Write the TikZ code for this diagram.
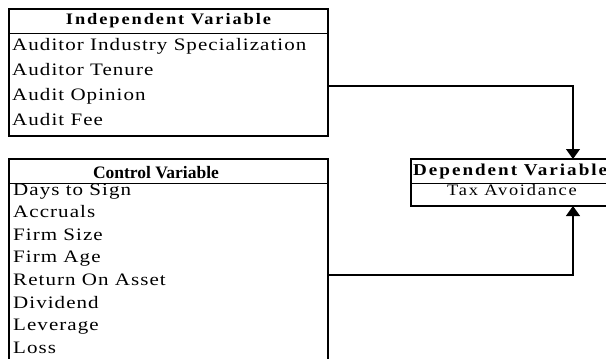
\documentclass[tikz,border=0pt]{standalone}
\usepackage{fontspec}
\setmainfont{Liberation Serif}
\newfontfamily\rowfont{Liberation Serif}[LetterSpace=6,FakeStretch=1.2]
\newfontfamily\depfont{Liberation Serif}[LetterSpace=11,FakeStretch=1.15]
\newfontfamily\headfont{Liberation Serif}[LetterSpace=12,FakeStretch=1.15]
\usetikzlibrary{arrows.meta}

\begin{document}
\begin{tikzpicture}[x=1pt,y=-1pt,
	box/.style={draw,line width=1.3pt,outer sep=0pt,inner sep=0pt},
	rule/.style={line width=1pt},
	link/.style={line width=1.1pt},
	arr/.style={link,-{Triangle[width=14pt,length=10pt]}},
	row/.style={anchor=base west,inner sep=0pt,font=\rowfont\fontsize{17.5}{19}\selectfont},
	head/.style={anchor=base,inner sep=0pt,font=\headfont\bfseries\fontsize{16}{18}\selectfont}]

	\useasboundingbox (0,0) rectangle (606,359);
	\clip (0,0) rectangle (606,359);

	%------------------------------------------------------
	\node[box,minimum width=319pt,minimum height=127pt,anchor=north west] (ind) at (9,9) {};
	\draw[rule] ([yshift=-24pt]ind.north west) -- ([yshift=-24pt]ind.north east);
	\node[head] (ind-head) at (168.5,24.5) {Independent Variable};
	\node[row] (ind-1) at (12,50) {Auditor Industry Specialization};
	\node[row] (ind-2) at (12,75) {Auditor Tenure};
	\node[row] (ind-3) at (12,100) {Audit Opinion};
	\node[row] (ind-4) at (12,125) {Audit Fee};
	%------------------------------------------------------


	%------------------------------------------------------
	\node[box,minimum width=319pt,minimum height=241pt,anchor=north west] (ctl) at (9,159) {};
	\draw[rule] ([yshift=-24pt]ctl.north west) -- ([yshift=-24pt]ctl.north east);
	\node[anchor=base,inner sep=0pt,font=\bfseries\fontsize{17.5}{19}\selectfont] (ctl-head) at (156,178) {Control Variable};
	\node[row] (ctl-1) at (13,195) {Days to Sign};
	\node[row] (ctl-2) at (13,217.6) {Accruals};
	\node[row] (ctl-3) at (13,240.2) {Firm Size};
	\node[row] (ctl-4) at (13,262.8) {Firm Age};
	\node[row] (ctl-5) at (13,285.4) {Return On Asset};
	\node[row] (ctl-6) at (13,308) {Dividend};
	\node[row] (ctl-7) at (13,330.6) {Leverage};
	\node[row] (ctl-8) at (13,353.2) {Loss};
	%------------------------------------------------------


	%------------------------------------------------------
	\node[box,minimum width=324pt,minimum height=47pt,anchor=north west] (dep) at (411,159) {};
	\draw[rule] ([yshift=-24pt]dep.north west) -- ([yshift=-24pt]dep.north east);
	\node[head,anchor=base west,font=\headfont\bfseries\fontsize{16.6}{18}\selectfont] (dep-head) at (413,175) {Dependent Variable};
	\node[row,font=\depfont\fontsize{16}{18}\selectfont] (dep-1) at (447,195) {Tax Avoidance};
	%------------------------------------------------------

	\draw[arr] ([yshift=-13.5pt]ind.east) -| (dep.north);
	\draw[arr] ([yshift=4.5pt]ctl.east) -| (dep.south);

\end{tikzpicture}
\end{document}
